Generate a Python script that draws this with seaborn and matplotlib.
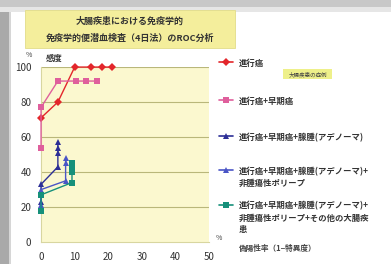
import pandas as pd
import matplotlib.pyplot as plt
import seaborn as sns
from matplotlib.lines import Line2D
from matplotlib.patches import Rectangle

# ROC points (false positive rate %, sensitivity %)
labels = [
    '進行癌',
    '進行癌+早期癌',
    '進行癌+早期癌+腺腫(アデノーマ)',
    '進行癌+早期癌+腺腫(アデノーマ)+\n非腫瘍性ポリープ',
    '進行癌+早期癌+腺腫(アデノーマ)+\n非腫瘍性ポリープ+その他の大腸疾\n患',
]
fpr_adv = [0, 5, 10, 15, 18, 21]
sens_adv = [71, 80, 100, 100, 100, 100]
fpr_early = [0, 0, 5, 10.5, 13.5, 16.5]
sens_early = [54, 77, 92, 92, 92, 92]
fpr_aden = [0, 0, 5, 5, 5, 5]
sens_aden = [23, 33, 43, 51, 54, 57]
fpr_polyp = [0, 0, 7.3, 7.3, 7.3]
sens_polyp = [21, 30, 35, 45, 48]
fpr_other = [0, 0, 9.2, 9.2, 9.2, 9.2]
sens_other = [18, 27, 34, 40, 42.5, 45]

colors = ['#e3262b', '#df5f9c', '#2c2f96', '#4a55c6', '#16907a']
markers = ['D', 's', '^', '^', 's']
xticks = [0, 10, 20, 30, 40, 50]
yticks = [0, 20, 40, 60, 80, 100]

rows = []
for lab, xs, ys in zip(labels,
                       [fpr_adv, fpr_early, fpr_aden, fpr_polyp, fpr_other],
                       [sens_adv, sens_early, sens_aden, sens_polyp, sens_other]):
    for i, (x, y) in enumerate(zip(xs, ys)):
        rows.append({'series': lab, 'order': i, 'fpr': x, 'sens': y})
df = pd.DataFrame(rows)

sns.set_style('white')
plt.rcParams['font.family'] = ['Noto Sans CJK JP', 'DejaVu Sans']

fig = plt.figure(figsize=(3.91, 2.64), dpi=100)
fig.patch.set_facecolor('white')
# slide frame: gray left edge and top shadow
fig.add_artist(Rectangle((0, 0), 0.022, 1, transform=fig.transFigure, color='#a9a9a9', lw=0))
fig.add_artist(Rectangle((0.022, 0), 0.006, 1, transform=fig.transFigure, color='#d6d6d6', lw=0))
fig.add_artist(Rectangle((0, 0.975), 1, 0.025, transform=fig.transFigure, color='#c8c8c8', lw=0))
fig.add_artist(Rectangle((0, 0.955), 1, 0.02, transform=fig.transFigure, color='#e6e6e6', lw=0))

ax = fig.add_axes([0.105, 0.083, 0.43, 0.663])
ax.set_facecolor('#fbf8cf')
for y in yticks[1:]:
    ax.axhline(y, color='#b9b77a', lw=0.8, zorder=0)

for lab, c, m in zip(labels, colors, markers):
    sub = df[df['series'] == lab].sort_values('order')
    sns.lineplot(data=sub, x='fpr', y='sens', sort=False, estimator=None,
                 color=c, marker=m, markersize=4.5, markeredgewidth=0,
                 lw=1.0, ax=ax, clip_on=False, zorder=3)

ax.set_xlim(0, 50)
ax.set_ylim(0, 100)
ax.set_xticks(xticks)
ax.set_yticks(yticks)
ax.tick_params(labelsize=7, colors='#333333', length=2, width=0.6, pad=5)
ax.set_xlabel('')
ax.set_ylabel('')
for s in ['top', 'right']:
    ax.spines[s].set_visible(False)
for s in ['left', 'bottom']:
    ax.spines[s].set_color('#d8d6a0')
    ax.spines[s].set_linewidth(0.8)

# title box
fig.add_artist(Rectangle((0.064, 0.818), 0.537, 0.145, transform=fig.transFigure,
                         facecolor='#f4ee9c', edgecolor='#e2dc8a', lw=0.6))
fig.text(0.332, 0.92, '大腸疾患における免疫学的', ha='center', va='center',
         fontsize=6.5, fontweight='bold', color='#333333')
fig.text(0.332, 0.855, '免疫学的便潜血検査（4日法）のROC分析', ha='center', va='center',
         fontsize=6.5, fontweight='bold', color='#333333')

fig.text(0.075, 0.792, '%', fontsize=5, color='#444444', ha='center', va='center')
fig.text(0.118, 0.777, '感度', fontsize=6, fontweight='bold', color='#333333', va='center')
fig.text(0.56, 0.1, '%', fontsize=5, color='#444444', ha='center', va='center')
fig.text(0.612, 0.06, '偽陽性率（1−特異度）', fontsize=5.5, fontweight='bold',
         color='#444444', va='center')

# legend
leg_y = [0.765, 0.62, 0.483, 0.355, 0.225]
for lab, c, m, y in zip(labels, colors, markers, leg_y):
    fig.add_artist(Line2D([0.56, 0.578, 0.596], [y, y, y], transform=fig.transFigure,
                          color=c, lw=1.2, marker=m, markersize=4.5,
                          markevery=[1], markeredgewidth=0))
    fig.text(0.61, y + 0.012, lab, fontsize=6, fontweight='bold', color='#333333',
             va='top', linespacing=1.4)
fig.add_artist(Rectangle((0.725, 0.7), 0.125, 0.04, transform=fig.transFigure,
                         facecolor='#eef08a', lw=0))
fig.text(0.787, 0.72, '大腸疾患の症例', fontsize=4, ha='center', va='center', color='#444444')

fig.savefig('out.png', dpi=100)
